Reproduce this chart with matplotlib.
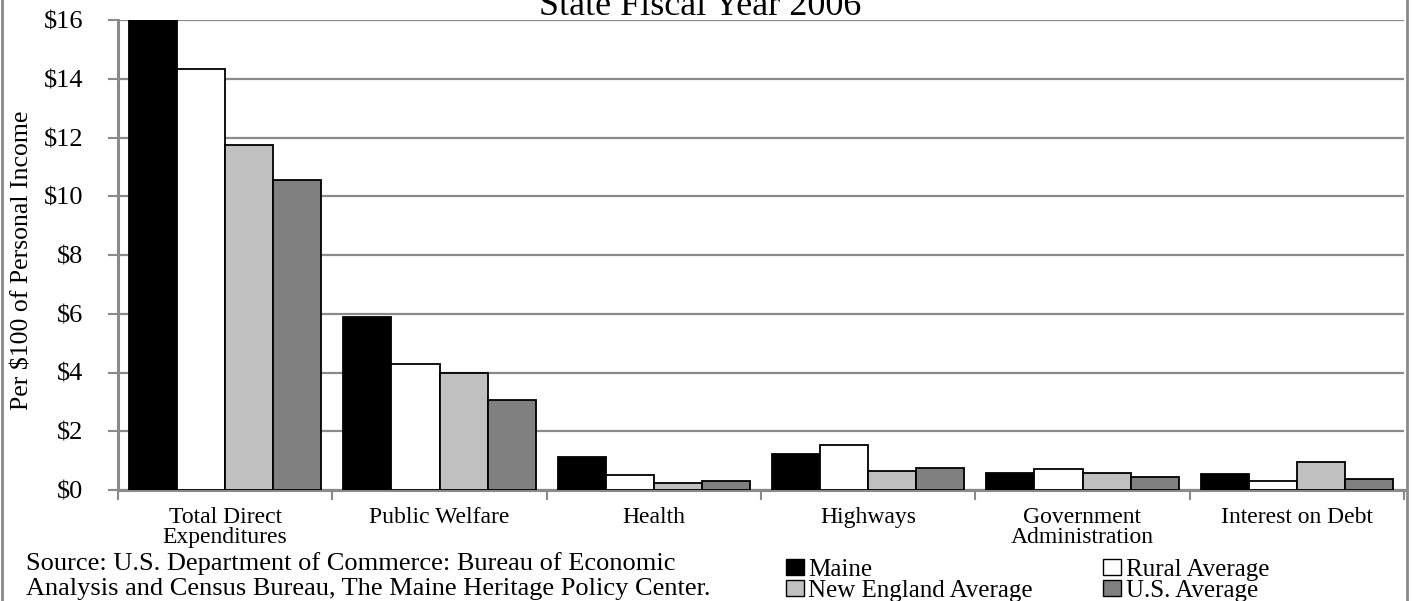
import matplotlib
matplotlib.use('Agg')
import matplotlib.pyplot as plt
from matplotlib.lines import Line2D
from matplotlib.patches import Patch
import numpy as np

plt.rcParams.update({
    'font.family': 'serif',
    'font.serif': ['Liberation Serif', 'DejaVu Serif'],
    'font.size': 16,
})

categories = ['Total Direct\nExpenditures', 'Public Welfare', 'Health',
              'Highways', 'Government\nAdministration', 'Interest on Debt']
maine = [16.2, 5.89, 1.12, 1.23, 0.59, 0.53]
rural = [14.33, 4.29, 0.51, 1.53, 0.70, 0.32]
new_england = [11.74, 3.98, 0.24, 0.65, 0.59, 0.95]
us_avg = [10.55, 3.06, 0.31, 0.76, 0.45, 0.37]
series_names = ['Maine', 'Rural Average', 'New England Average', 'U.S. Average']
yticks = [0, 2, 4, 6, 8, 10, 12, 14, 16]

colors = ['#000000', '#FFFFFF', '#C0C0C0', '#808080']
GRID = '#8a8a8a'

fig = plt.figure(figsize=(14.13, 6.01), dpi=100)
ax = fig.add_axes([118 / 1413, 111 / 601, (1404 - 118) / 1413, 470 / 601])

x = np.arange(len(categories))
w = 0.224
for i, (vals, col) in enumerate(zip([maine, rural, new_england, us_avg], colors)):
    ax.bar(x + (i - 1.5) * w, vals, width=w, color=col, edgecolor='black',
           linewidth=1.3, zorder=3)

ax.set_ylim(0, 16)
ax.set_xlim(-0.5, len(categories) - 0.5)
ax.set_yticks(yticks)
ax.set_yticklabels([f'${v}' for v in yticks])
ax.yaxis.grid(True, color=GRID, linewidth=1.6, zorder=0)
ax.set_axisbelow(True)

ax.set_xticks(np.arange(-0.5, len(categories)), labels=[])
ax.set_xticks(x, labels=categories, minor=True)
ax.tick_params(axis='x', which='major', length=7, width=1.5, color=GRID, direction='out')
ax.tick_params(axis='x', which='minor', length=0, pad=12, labelsize=17)
for lab in ax.get_xticklabels(minor=True):
    lab.set_linespacing(0.98)
ax.tick_params(axis='y', length=7, width=1.5, color=GRID, pad=18, labelsize=19)

for s in ['top', 'right']:
    ax.spines[s].set_visible(False)
for s in ['left', 'bottom']:
    ax.spines[s].set_color(GRID)
    ax.spines[s].set_linewidth(2.2)

fig.text(23 / 1413, (601 - 260) / 601, 'Per $100 of Personal Income', rotation=90,
         ha='center', va='center', fontsize=18.5)
fig.text(700 / 1413, (601 - 15) / 601, 'State Fiscal Year 2006', ha='center',
         va='baseline', fontsize=26)

fig.text(26 / 1413, (601 - 570) / 601,
         'Source: U.S. Department of Commerce: Bureau of Economic',
         ha='left', va='baseline', fontsize=19)
fig.text(26 / 1413, (601 - 595) / 601,
         'Analysis and Census Bureau, The Maine Heritage Policy Center.',
         ha='left', va='baseline', fontsize=19)

handles = [Patch(facecolor=c, edgecolor='black', linewidth=1.0) for c in colors]
order = [0, 2, 1, 3]
fig.legend([handles[i] for i in order], [series_names[i] for i in order],
           loc='upper left', bbox_to_anchor=(786 / 1413, (601 - 559) / 601),
           ncol=2, frameon=False, fontsize=18, handlelength=0.7, handleheight=0.6,
           handletextpad=0.2, labelspacing=-0.05, columnspacing=2.8,
           borderpad=0, borderaxespad=0)

fig.add_artist(Line2D([1.5 / 1413, 1.5 / 1413], [0, 1], color=GRID, linewidth=2,
                      transform=fig.transFigure))
fig.add_artist(Line2D([1407 / 1413, 1407 / 1413], [0, 1], color=GRID, linewidth=2,
                      transform=fig.transFigure))

fig.savefig('out.png', dpi=100, facecolor='white')
